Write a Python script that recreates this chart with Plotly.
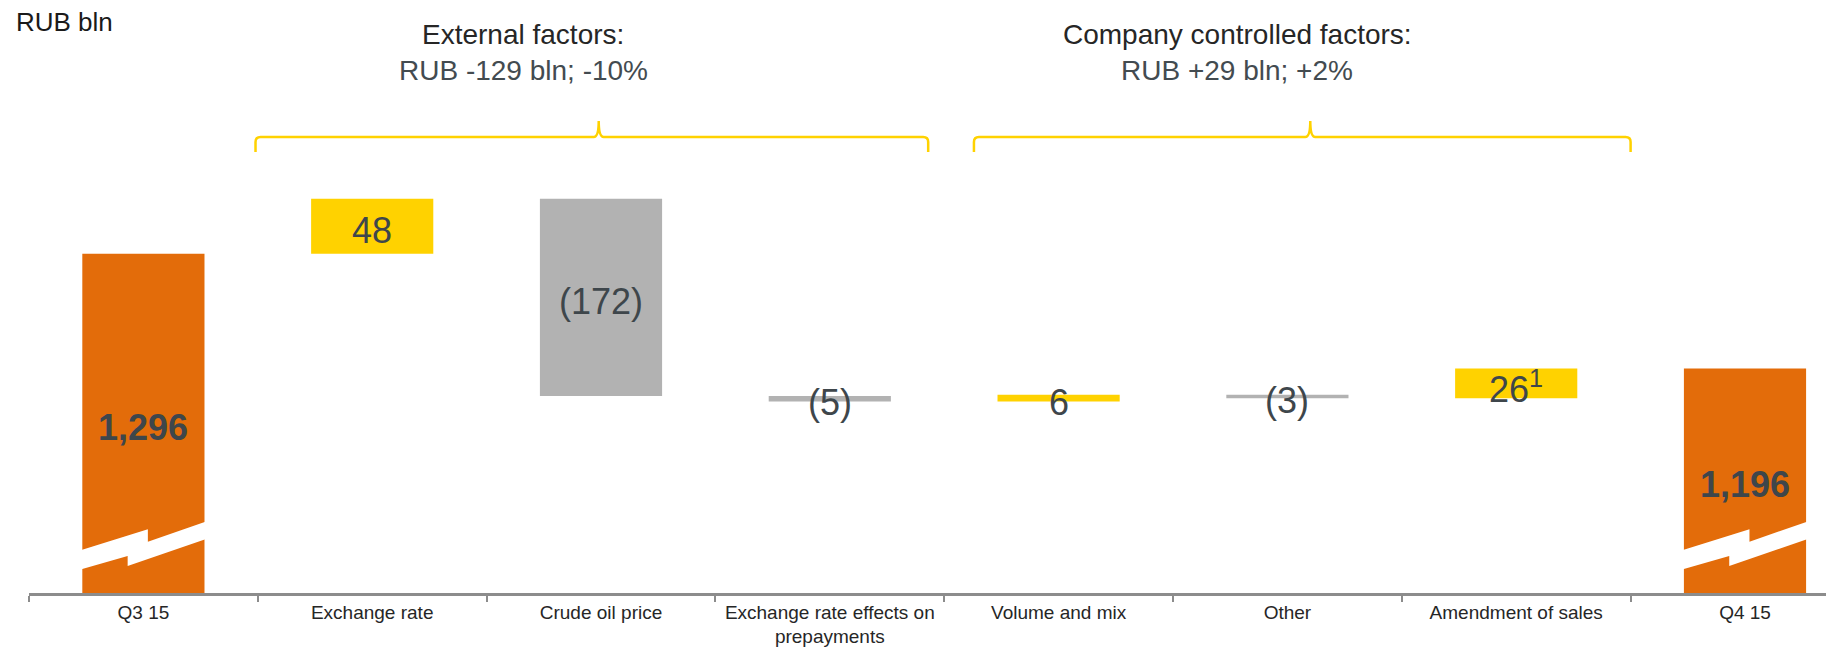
import plotly.graph_objects as go

# data
categories = ["Q3 15", "Exchange rate", "Crude oil price",
              "Exchange rate effects on<br>prepayments", "Volume and mix",
              "Other", "Amendment of sales", "Q4 15"]
values = [1296, 48, -172, -5, 6, -3, 26, 1196]
measures = ["absolute", "relative", "relative", "relative",
            "relative", "relative", "relative", "total"]
footnotes = {"Amendment of sales": "1"}

group_titles = ["External factors:", "Company controlled factors:"]
group_values = ["RUB -129 bln; -10%", "RUB +29 bln; +2%"]

ORANGE = "#E36C0A"
YELLOW = "#FFD200"
GREY = "#B2B2B2"
LABEL = "#3E464B"
FONT = "Liberation Sans, Arial, sans-serif"

# page body has an 8px margin, so the layout is shifted up/left by 8px
OFF = 8
W, H = 1834, 647
ML, MR, MT, MB = 29 - OFF, 0, 20 - OFF, H - (593 - OFF)
Y_BASE = 1000
Y_RANGE = [Y_BASE, 1500]
CAT_PX = 228.8
X_RANGE = [-0.5, -0.5 + (W - ML - MR) / CAT_PX]
BAR_W = 0.534


def xp(v):
    return (v - X_RANGE[0]) / (X_RANGE[1] - X_RANGE[0])


def yp(px):
    # px measured on the screen
    return (H - MB - (px - OFF)) / (H - MT - MB)


def xpx(px):
    return (px - OFF - ML) / (W - ML - MR)


# label positions (middle of the visible part of each bar)
mids = []
texts = []
level = 0
for cat, v, m in zip(categories, values, measures):
    if m == "absolute":
        lo, hi = Y_BASE, v
        level = v
    elif m == "total":
        lo, hi = Y_BASE, level
    else:
        lo, hi = level, level + v
        level += v
    mids.append((lo + hi) / 2)
    if m in ("absolute", "total"):
        t = "<b>{:,}</b>".format(hi)
    elif v < 0:
        t = "({})".format(-v)
    else:
        t = str(v)
    if cat in footnotes:
        t += "<sup>" + footnotes[cat] + "</sup>"
    texts.append(t)

fig = go.Figure()

fig.add_trace(
    go.Waterfall(
        x=categories,
        y=values,
        measure=measures,
        width=BAR_W,
        increasing=dict(marker=dict(color=YELLOW)),
        decreasing=dict(marker=dict(color=GREY)),
        totals=dict(marker=dict(color=ORANGE)),
        connector=dict(visible=False),
        hoverinfo="skip"
    )
)

# axis-break marks on the total bars
shapes = []
brk = [(0, 550), (0.536, 529.3), (0.536, 541.7), (1, 521.7),
       (1, 539.3), (0.373, 566), (0.373, 556), (0, 569.3)]
for i, m in enumerate(measures):
    if m in ("absolute", "total"):
        x0 = i - BAR_W / 2 - 0.004
        pts = [(xp(x0 + f * (BAR_W + 0.008)), yp(py)) for f, py in brk]
        path = "M " + " L ".join("{:.5f},{:.5f}".format(a, b) for a, b in pts) + " Z"
        shapes.append(dict(type="path", xref="paper", yref="paper", path=path,
                           fillcolor="white", line=dict(width=0), layer="above"))

# curly brackets above the factor groups
brackets = [(0.49, 1.99, 3.43), (3.63, 5.10, 6.50)]
y_line, y_leg, y_peak, r = 137, 152, 121, 5
for a, c, b in brackets:
    xa, xc, xb = xp(a), xp(c), xp(b)
    rx = r / (W - ML - MR)
    path = (
        f"M {xa},{yp(y_leg)} L {xa},{yp(y_line + r)} "
        f"Q {xa},{yp(y_line)} {xa + rx},{yp(y_line)} "
        f"L {xc - rx},{yp(y_line)} Q {xc},{yp(y_line)} {xc},{yp(y_peak)} "
        f"Q {xc},{yp(y_line)} {xc + rx},{yp(y_line)} "
        f"L {xb - rx},{yp(y_line)} Q {xb},{yp(y_line)} {xb},{yp(y_line + r)} "
        f"L {xb},{yp(y_leg)}"
    )
    shapes.append(dict(type="path", xref="paper", yref="paper", path=path,
                       line=dict(color=YELLOW, width=2.5)))

annotations = []

# value labels in the middle of each bar
for cat, y, t in zip(categories, mids, texts):
    annotations.append(
        dict(text=t, x=cat, y=y, xref="x", yref="y", yshift=-4,
             xanchor="center", yanchor="middle", showarrow=False,
             font=dict(size=36, color=LABEL, family=FONT)))

annotations.append(
    dict(text="RUB bln", x=xpx(14), y=yp(22), xref="paper", yref="paper",
         xanchor="left", yanchor="middle", showarrow=False,
         font=dict(size=26, color="#1A1A1A", family=FONT)))

header_x = [1.66, 4.78]
for hx, title, val in zip(header_x, group_titles, group_values):
    annotations.append(
        dict(text=title, x=xp(hx), y=yp(35), xref="paper", yref="paper",
             xanchor="center", yanchor="middle", showarrow=False,
             font=dict(size=28, color="#262626", family=FONT)))
    annotations.append(
        dict(text=val, x=xp(hx), y=yp(70), xref="paper", yref="paper",
             xanchor="center", yanchor="middle", showarrow=False,
             font=dict(size=28, color="#434B50", family=FONT)))

fig.update_layout(
    width=W,
    height=H,
    margin=dict(l=ML, r=MR, t=MT, b=MB),
    paper_bgcolor="white",
    plot_bgcolor="white",
    showlegend=False,
    hovermode=False,
    shapes=shapes,
    annotations=annotations,
    font=dict(family=FONT),
    xaxis=dict(
        type="category",
        range=X_RANGE,
        showline=True,
        linecolor="#8C8C8C",
        linewidth=2.5,
        ticks="outside",
        tickson="boundaries",
        ticklen=6,
        tickwidth=1.5,
        tickcolor="#8C8C8C",
        showgrid=False,
        automargin=False,
        tickfont=dict(size=19, color="#262626", family=FONT)
    ),
    yaxis=dict(
        range=Y_RANGE,
        visible=False,
        showgrid=False,
        zeroline=False
    )
)

fig.write_html("out.html")
